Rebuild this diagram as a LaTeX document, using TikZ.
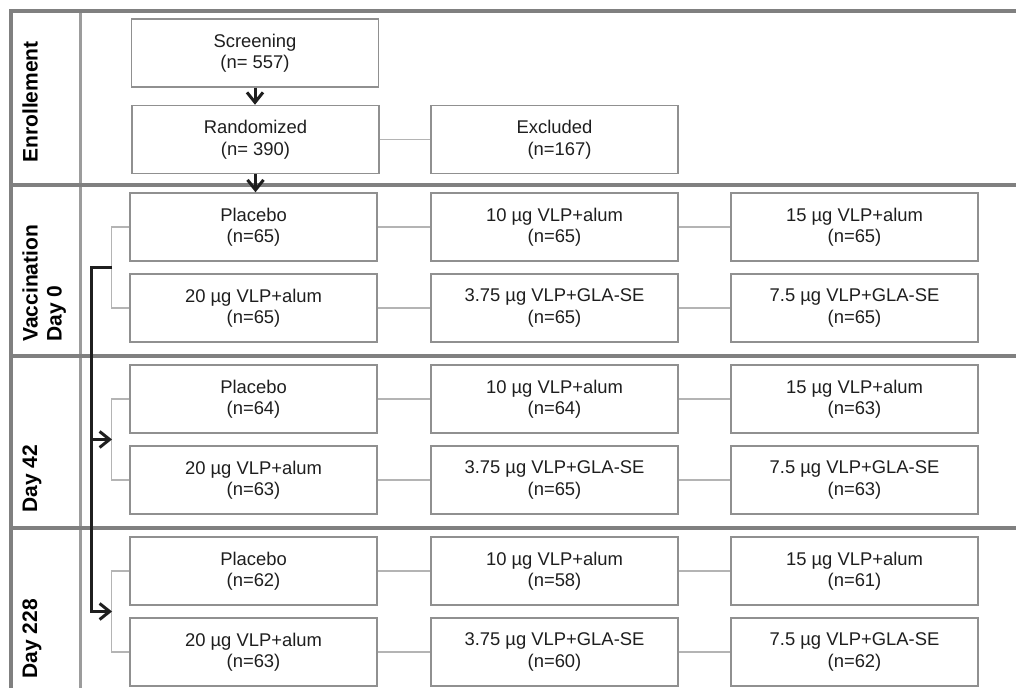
\documentclass[tikz,border=0pt]{standalone}
\usepackage{fontspec}
\setmainfont{Liberation Sans}
\usetikzlibrary{arrows.meta}
\definecolor{gridc}{HTML}{808080}
\definecolor{divc}{HTML}{9C9C9C}
\definecolor{boxc}{HTML}{909090}
\definecolor{linkc}{HTML}{B4B4B4}
\definecolor{txtc}{HTML}{1E1E1E}
\begin{document}
\begin{tikzpicture}[x=0.5pt,y=-0.5pt,
 box/.style={draw=boxc, line width=0.7pt, minimum width=123.5pt, minimum height=34pt, inner sep=0pt, align=center, font=\fontsize{9.2}{10.75}\selectfont, text=txtc},
 link/.style={draw=linkc, line width=0.6pt},
 gridline/.style={draw=gridc, line width=1.6pt},
 coldiv/.style={draw=divc, line width=1.1pt},
 flow/.style={draw=black!88, line width=1.5pt, -{Straight Barb[length=5pt,width=8pt]}},
 lab/.style={rotate=90, anchor=north west, inner sep=0pt, align=left, font=\fontsize{10.5}{12}\selectfont\bfseries}]
\useasboundingbox (0,0) rectangle (1016,688);
% frame
\draw[coldiv] (80.5,11) -- (80.5,688);
\draw[gridline, line join=miter] (11,688) -- (11,11) -- (1016,11);
\draw[gridline] (11,185) -- (1016,185);
\draw[gridline] (11,356) -- (1016,356);
\draw[gridline] (11,528) -- (1016,528);
% labels
\node[lab] (l1) at (22,163) {Enrollement};
\node[lab] (l2) at (22,342) {Vaccination\\Day 0};
\node[lab] (l3) at (22,513) {Day 42};
\node[lab] (l4) at (22,679) {Day 228};
% enrollment
\node[box] (scr) at (255,53) {Screening\\(n= 557)};
\node[box] (ran) at (255.5,139.5) {Randomized\\(n= 390)};
\node[box] (exc) at (554.5,139.5) {Excluded\\\hspace*{5pt}(n=167)};
\draw[link] (ran) -- (exc);
% groups
\foreach \s/\ya/\yb/\na/\nb/\nc/\nd/\ne/\nf in {v/227/308/65/65/65/65/65/65, d/399/480/64/64/63/63/65/63, e/571/652/62/58/61/63/60/62} {
  \node[box] (\s11) at (253.5,\ya) {Placebo\\(n=\na)};
  \node[box] (\s12) at (554.5,\ya) {10 µg VLP+alum\\(n=\nb)};
  \node[box] (\s13) at (854.5,\ya) {15 µg VLP+alum\\(n=\nc)};
  \node[box] (\s21) at (253.5,\yb) {20 µg VLP+alum\\(n=\nd)};
  \node[box] (\s22) at (554.5,\yb) {3.75 µg VLP+GLA-SE\\(n=\ne)};
  \node[box] (\s23) at (854.5,\yb) {7.5 µg VLP+GLA-SE\\(n=\nf)};
  \draw[link] (\s11) -- (\s12);
  \draw[link] (\s12) -- (\s13);
  \draw[link] (\s21) -- (\s22);
  \draw[link] (\s22) -- (\s23);
  \draw[link] (\s11.west) -- ++(-18,0) |- (\s21.west);
  \coordinate (\s b) at (112,{(\ya+\yb)/2});
}
% flow arrows
\draw[flow] (scr.south) -- (scr.south |- ran.north);
\draw[flow] (ran.south) -- (ran.south |- v11.north);
\coordinate (sp) at (91,267.5);
\draw[flow, line join=miter] (vb) -- (sp) |- (eb);
\draw[flow] (sp |- db) -- (db);
\end{tikzpicture}
\end{document}
